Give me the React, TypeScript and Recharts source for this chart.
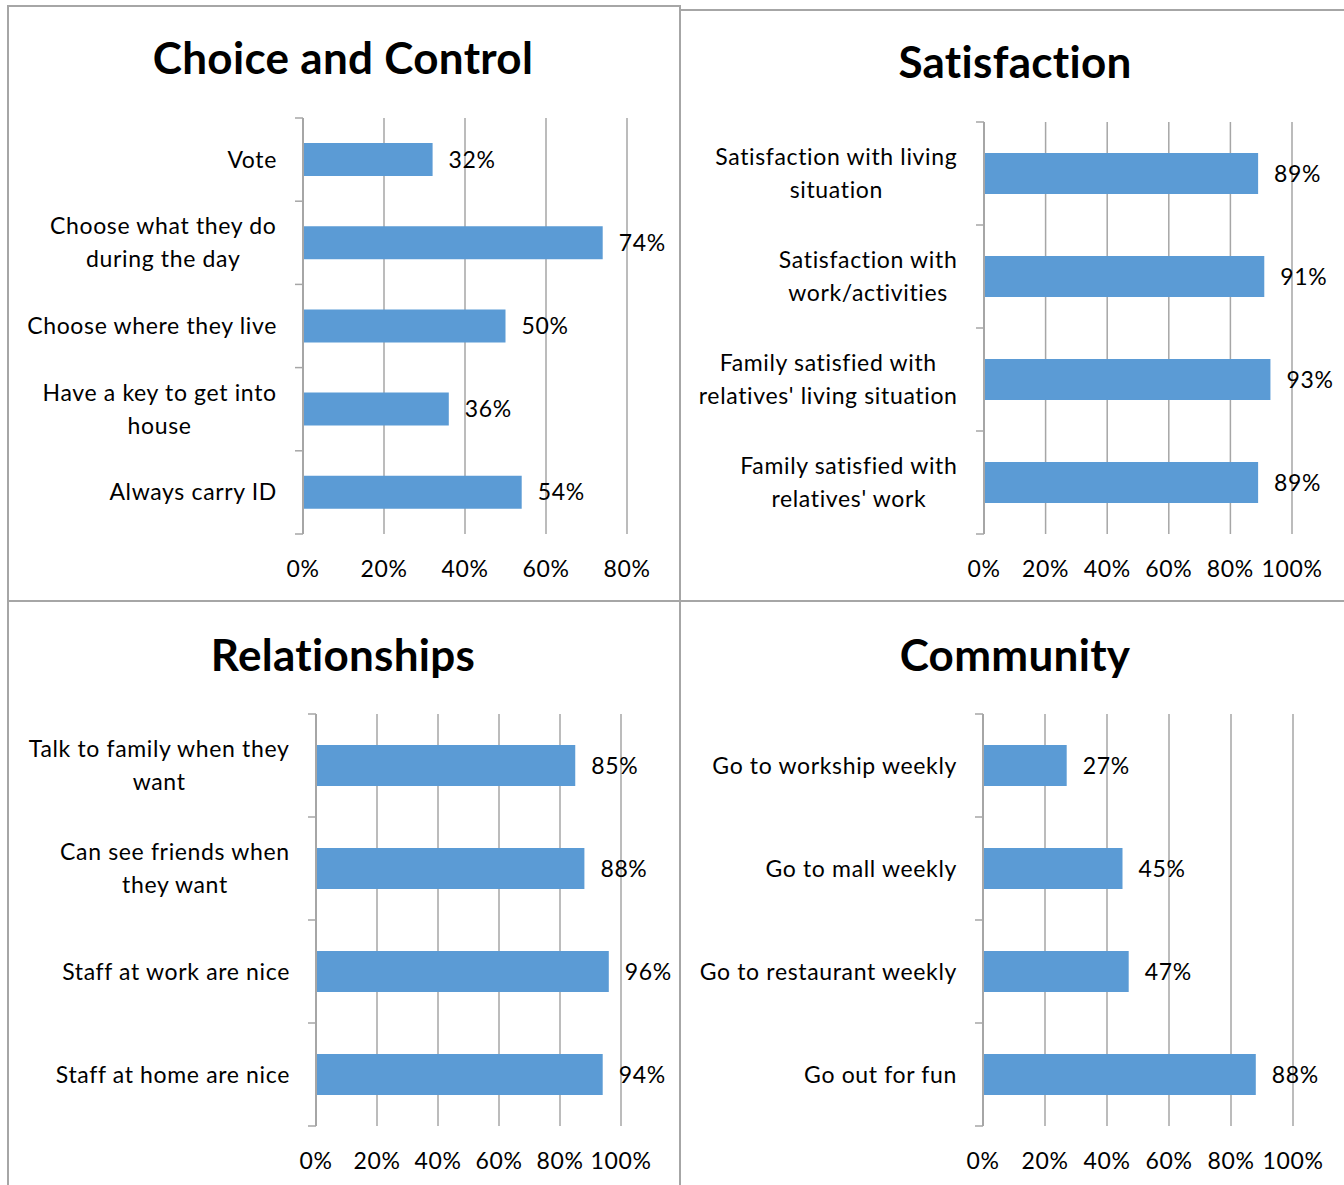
import { BarChart, Bar, XAxis, YAxis, CartesianGrid, LabelList } from 'recharts';

const FONT = 'Lato, "Open Sans", sans-serif';
const BAR_COLOR = '#5b9bd5';
const LINE_COLOR = '#a6a6a6';
const LABEL_SIZE = 23;
const SPACING = 0.65;

const choiceCategories = [
  'Vote',
  'Choose what they do\nduring the day',
  'Choose where they live',
  'Have a key to get into\nhouse',
  'Always carry ID',
];
const choiceValues = [32, 74, 50, 36, 54];
const choiceTicks = [0, 20, 40, 60, 80];

const satisfactionCategories = [
  'Satisfaction with living\nsituation',
  'Satisfaction with\nwork/activities',
  "Family satisfied with\nrelatives' living situation",
  "Family satisfied with\nrelatives' work",
];
const satisfactionValues = [89, 91, 93, 89];

const relationshipCategories = [
  'Talk to family when they\nwant',
  'Can see friends when\nthey want',
  'Staff at work are nice',
  'Staff at home are nice',
];
const relationshipValues = [85, 88, 96, 94];

const communityCategories = [
  'Go to workship weekly',
  'Go to mall weekly',
  'Go to restaurant weekly',
  'Go out for fun',
];
const communityValues = [27, 45, 47, 88];

const percentTicks = [0, 20, 40, 60, 80, 100];

let measureCtx: CanvasRenderingContext2D | null = null;
function textWidth(s: string, font: string) {
  if (!measureCtx) measureCtx = document.createElement('canvas').getContext('2d');
  if (!measureCtx) return s.length * 10;
  measureCtx.font = font;
  return measureCtx.measureText(s).width + s.length * SPACING;
}

function CategoryTick(props: any) {
  const { x, y, payload, categories, band } = props;
  const idx = categories.indexOf(payload.value);
  const lines = String(payload.value).split('\n');
  const right = x - 26;
  const lh = 33;
  const font = `${LABEL_SIZE}px ${FONT}`;
  const maxW = Math.max(...lines.map((l: string) => textWidth(l, font)));
  const startY = y - ((lines.length - 1) * lh) / 2;
  return (
    <g>
      <line x1={x - 8} x2={x} y1={y - band / 2} y2={y - band / 2} stroke={LINE_COLOR} strokeWidth={1.5} />
      {idx === categories.length - 1 && (
        <line x1={x - 8} x2={x} y1={y + band / 2} y2={y + band / 2} stroke={LINE_COLOR} strokeWidth={1.5} />
      )}
      {lines.map((l: string, i: number) => (
        <text
          key={i}
          x={lines.length > 1 ? right - maxW / 2 : right}
          y={startY + i * lh}
          dy="0.35em"
          textAnchor={lines.length > 1 ? 'middle' : 'end'}
          fontSize={LABEL_SIZE}
          fontFamily={FONT}
          letterSpacing={SPACING}
          fill="#000"
        >
          {l}
        </text>
      ))}
    </g>
  );
}

interface PanelProps {
  title: string;
  titleX: number;
  titleY: number;
  categories: string[];
  values: number[];
  ticks: number[];
  left: number;
  top: number;
  width: number;
  height: number;
  plot: { left: number; top: number; right: number; bottom: number };
  barSize: number;
  topTickSize: number;
}

function Panel({ title, titleX, titleY, categories, values, ticks, left, top, width, height, plot, barSize, topTickSize }: PanelProps) {
  const data = categories.map((name, i) => ({ name, value: values[i] }));
  const band = (plot.bottom - plot.top) / categories.length;
  const max = ticks[ticks.length - 1];
  return (
    <div style={{ position: 'absolute', left, top, width, height }}>
      <div
        style={{
          position: 'absolute',
          left: titleX - 300,
          top: titleY - 25,
          width: 600,
          lineHeight: '50px',
          textAlign: 'center',
          fontFamily: FONT,
          fontWeight: 'bold',
          fontSize: 44,
          letterSpacing: 0.3,
          color: '#000',
        }}
      >
        {title}
      </div>
      <div style={{ position: 'absolute', left: 0, top: 0 }}>
        <BarChart
          width={width}
          height={height}
          data={data}
          layout="vertical"
          margin={{ top: plot.top, right: width - plot.right, left: 0, bottom: height - plot.bottom - 40 }}
        >
          <CartesianGrid horizontal={false} stroke={LINE_COLOR} strokeWidth={1.5} />
          <XAxis
            type="number"
            domain={[0, max]}
            ticks={ticks}
            axisLine={false}
            tickLine={false}
            tickSize={0}
            tickMargin={27}
            height={40}
            interval={0}
            tickFormatter={(v) => `${v}%`}
            tick={{ fontSize: LABEL_SIZE, fontFamily: FONT, fill: '#000', letterSpacing: SPACING }}
          />
          <XAxis
            xAxisId="top"
            orientation="top"
            type="number"
            domain={[0, max]}
            ticks={ticks}
            height={0}
            tick={false}
            tickSize={topTickSize}
            axisLine={{ stroke: LINE_COLOR, strokeWidth: 2 }}
            tickLine={{ stroke: LINE_COLOR, strokeWidth: 1.5 }}
          />
          <YAxis
            type="category"
            dataKey="name"
            width={plot.left}
            interval={0}
            tickSize={0}
            tickMargin={0}
            tickLine={false}
            axisLine={{ stroke: LINE_COLOR, strokeWidth: 2 }}
            tick={(p: any) => <CategoryTick {...p} categories={categories} band={band} />}
          />
          <Bar dataKey="value" fill={BAR_COLOR} barSize={barSize} isAnimationActive={false}>
            <LabelList
              dataKey="value"
              position="right"
              offset={16}
              formatter={(v: any) => `${v}%`}
              fontSize={LABEL_SIZE}
              fontFamily={FONT}
              letterSpacing={SPACING}
              fill="#000"
            />
          </Bar>
        </BarChart>
      </div>
    </div>
  );
}

function Line({ x, y, w, h }: { x: number; y: number; w: number; h: number }) {
  return <div style={{ position: 'absolute', left: x, top: y, width: w, height: h, background: LINE_COLOR }} />;
}

export default function App() {
  return (
    <div style={{ position: 'absolute', left: 0, top: 0, width: 1344, height: 1185, background: '#fff', overflow: 'hidden' }}>
      <Line x={7} y={5} w={674} h={2} />
      <Line x={680} y={9} w={664} h={2} />
      <Line x={7} y={5} w={2} h={1180} />
      <Line x={679} y={5} w={2} h={1180} />
      <Line x={7} y={600} w={1337} h={2} />
      <Panel
        title="Choice and Control"
        titleX={343}
        titleY={57}
        categories={choiceCategories}
        values={choiceValues}
        ticks={choiceTicks}
        left={0}
        top={0}
        width={680}
        height={600}
        plot={{ left: 303, top: 118, right: 627, bottom: 534 }}
        barSize={33}
        topTickSize={0}
      />
      <Panel
        title="Satisfaction"
        titleX={335}
        titleY={61}
        categories={satisfactionCategories}
        values={satisfactionValues}
        ticks={percentTicks}
        left={680}
        top={0}
        width={664}
        height={600}
        plot={{ left: 304, top: 122, right: 612, bottom: 534 }}
        barSize={41}
        topTickSize={9}
      />
      <Panel
        title="Relationships"
        titleX={343}
        titleY={54}
        categories={relationshipCategories}
        values={relationshipValues}
        ticks={percentTicks}
        left={0}
        top={600}
        width={680}
        height={585}
        plot={{ left: 316, top: 114, right: 621, bottom: 526 }}
        barSize={41}
        topTickSize={9}
      />
      <Panel
        title="Community"
        titleX={335}
        titleY={54}
        categories={communityCategories}
        values={communityValues}
        ticks={percentTicks}
        left={680}
        top={600}
        width={664}
        height={585}
        plot={{ left: 303, top: 114, right: 613, bottom: 526 }}
        barSize={41}
        topTickSize={9}
      />
    </div>
  );
}
